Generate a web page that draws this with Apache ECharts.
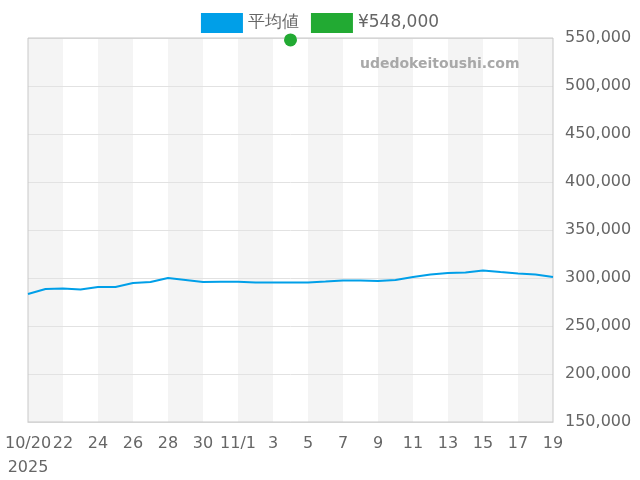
<!DOCTYPE html>
<html><head><meta charset="utf-8">
<script src="https://cdn.jsdelivr.net/npm/echarts@6/dist/echarts.min.js"></script>
<style>body{margin:0}#c{width:640px;height:480px}</style></head>
<body><div id="c"></div>
<script>
var dates = ['10/20\n2025','10/21','22','10/23','24','10/25','26','10/27','28','10/29','30','10/31','11/1','11/2','3','11/4','5','11/6','7','11/8','9','11/10','11','11/12','13','11/14','15','11/16','17','11/18','19'];
var avgPrice = [283300,288500,289000,288000,290600,290600,294800,295800,300000,298000,295800,296000,296000,295300,295300,295300,295300,296300,297400,297400,296800,298000,301000,303600,305200,305700,307800,306200,304700,303600,301000];
var pointPrice = [];
for (var i = 0; i < dates.length; i++) pointPrice.push(i === 15 ? 548000 : null);

var chart = echarts.init(document.getElementById('c'));
chart.setOption({
    animation: false,
    legend: {
        top: 8, left: 'center', itemWidth: 42, itemHeight: 20, itemGap: 12,
        textStyle: { color: '#666', fontSize: 17, fontFamily: 'DejaVu Sans' },
        data: [{ name: '平均値', icon: 'rect' }, { name: '¥548,000', icon: 'rect' }]
    },
    grid: { left: 28, right: 87, top: 38, bottom: 58, show: true, z: 4, borderColor: '#c8c8c8', borderWidth: 1, backgroundColor: 'transparent' },
    graphic: [{ type: 'text', z: 100, x: 360, y: 57, style: { text: 'udedokeitoushi.com', fill: '#a8a8a8', font: 'bold 14px DejaVu Sans' } }],
    xAxis: {
        type: 'category', data: dates, boundaryGap: false, z: 1,
        axisLine: { lineStyle: { color: '#ccc' } },
        axisTick: { show: false },
        axisLabel: { interval: 1, color: '#666', fontSize: 16, lineHeight: 24, fontFamily: 'DejaVu Sans', margin: 10,
            formatter: function (v) { return v.indexOf('/') > 0 && v.indexOf('\n') < 0 && v !== '11/1' ? '' : v; } },
        splitLine: { show: false },
        splitArea: { show: true, interval: 1, areaStyle: { color: ['#f4f4f4', '#ffffff'] } }
    },
    yAxis: {
        type: 'value', position: 'right', min: 150000, max: 550000, interval: 50000, z: 3,
        axisLine: { show: false }, axisTick: { show: false },
        axisLabel: { color: '#666', fontSize: 16, fontFamily: 'DejaVu Sans', margin: 12,
            formatter: function (v) { return v.toLocaleString('en-US'); } },
        splitLine: { lineStyle: { color: '#e2e2e2' } }
    },
    series: [
        { name: '平均値', type: 'line', z: 10, data: avgPrice, symbol: 'none', color: '#009fe8', lineStyle: { width: 2 } },
        { name: '¥548,000', type: 'scatter', z: 10, data: pointPrice, symbolSize: 13, color: '#22aa33', itemStyle: { opacity: 1 } }
    ]
});
</script></body></html>
